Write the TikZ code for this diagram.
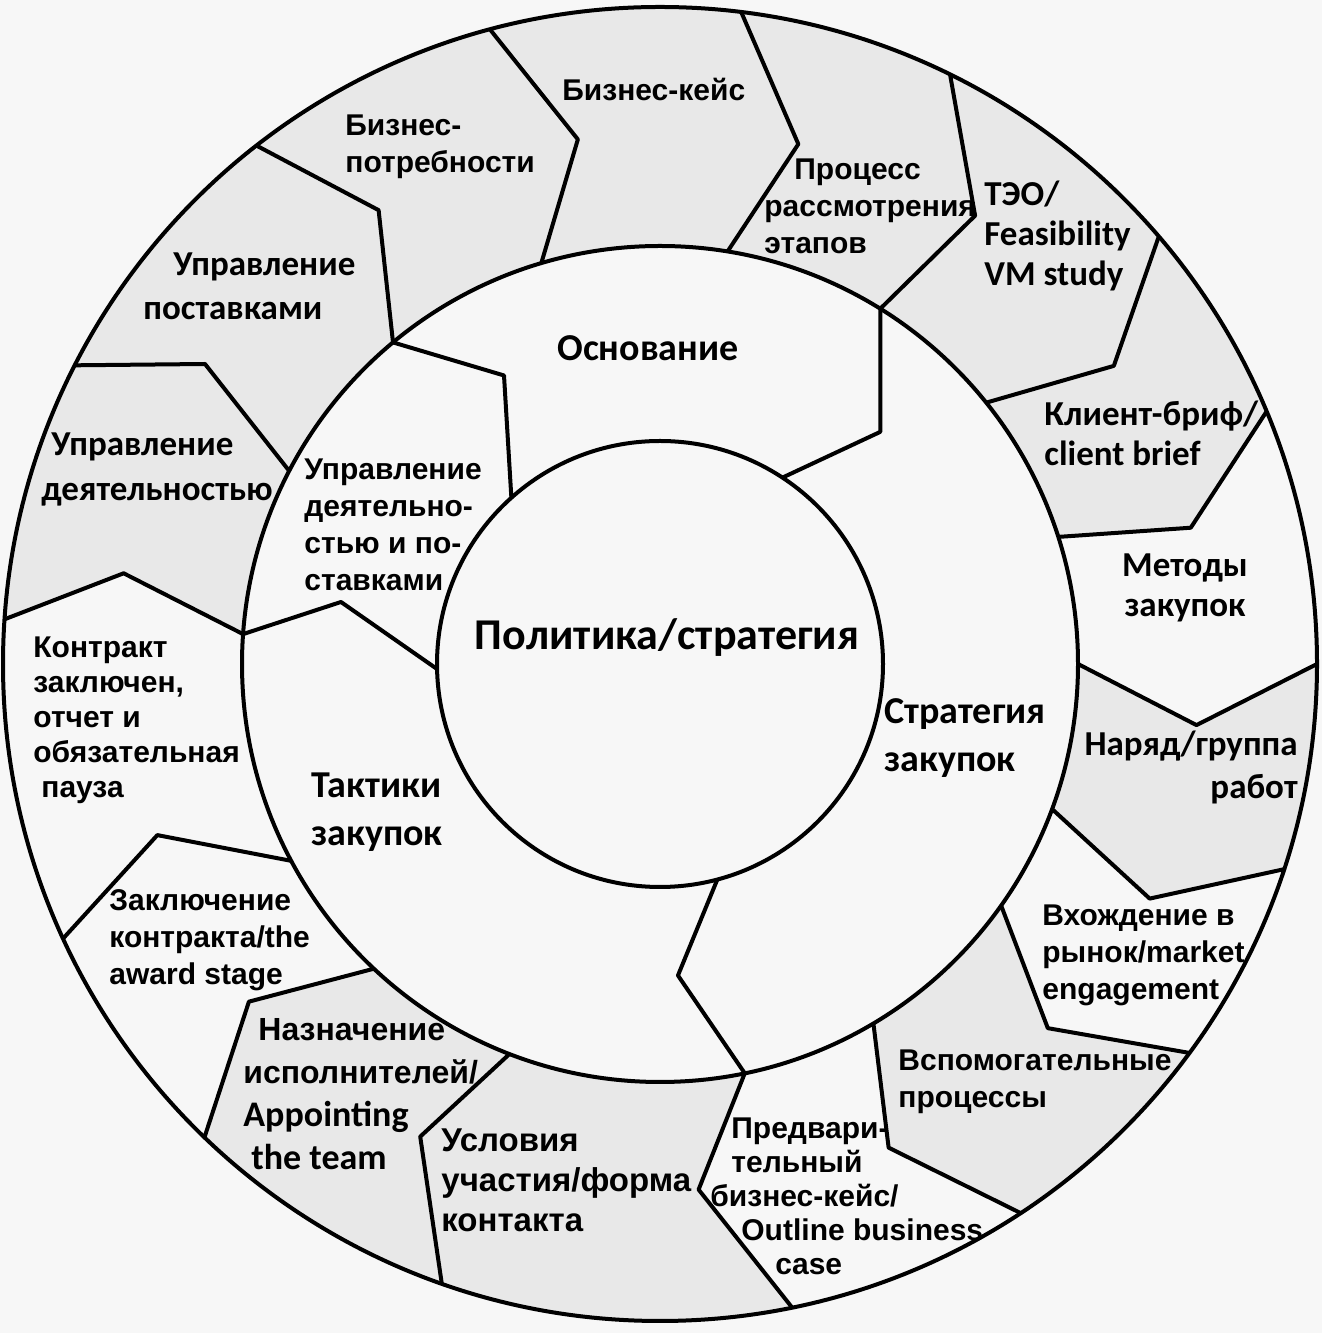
\documentclass[tikz,border=0pt]{standalone}
\usepackage{fontspec}
\setmainfont{Liberation Sans}
\newfontfamily\calibfont{Carlito}
\usetikzlibrary{calc}
\definecolor{bgcol}{gray}{0.97}
\definecolor{segcol}{gray}{0.91}

\begin{document}
\begin{tikzpicture}[
    x=0.5pt, y=0.5pt,
    ring/.style={line width=2pt, line join=round},
    seg/.style={fill=segcol},
    lbl/.style={inner sep=0pt, align=left, anchor=west, font=\bfseries\fontsize{15}{18.5}\selectfont},
    clbl/.style={inner sep=0pt, align=left, anchor=west, font=\calibfont\bfseries\fontsize{17.5}{20}\selectfont},
    mlbl/.style={clbl, font=\calibfont\bfseries\fontsize{19}{24}\selectfont}
]
\useasboundingbox (0,0) rectangle (1322,1333);
\fill[bgcol] (0,0) rectangle (1322,1333);
\coordinate (O) at (660,669);

\foreach \n/\ao/\ak/\rk/\am in {1/105.0/98.9/531/106.5, 2/82.9/75.1/538/80.7, 3/63.8/54.9/548/58.2,
    4/40.6/33.3/543/38.7, 5/22.6/14.4/548/17.7, 6/0.0/-6.5/540/0.0, 7/-18.2/-25.6/543/-20.3,
    8/-36.3/-43.2/532/-35.3, 9/-56.7/-64.7/535/-59.3, 10/-78.4/-85.8/527/-78.3,
    11/-109.4/-116.9/530/-111.1, 12/-133.9/-140.6/532/-133.2, 13/-155.3/-161.2/531/-151.9,
    14/176.1/170.4/544/175.9, 15/152.96/146.6/545/152.5, 16/127.9/121.8/534/129.7}{
  \coordinate (o\n) at ($(O)+(\ao:657)$);
  \coordinate (k\n) at ($(O)+(\ak:\rk)$);
  \coordinate (m\n) at ($(O)+(\am:418)$);
}
\foreach \n/\ak/\rk/\ai in {A/46.5/320/56.7, B/-86.7/312/-75.1, C/169.0/325/181.3, D/118.4/328/131.8}{
  \coordinate (k\n) at ($(O)+(\ak:\rk)$);
  \coordinate (i\n) at ($(O)+(\ai:223)$);
}

\fill[seg] (o14) -- (k14) -- (m14) -- (m15) -- (m16) -- (m1) -- (m2) -- (m3) -- (m4) -- (m5) -- (k5) -- (o5)
    arc[start angle=22.6, end angle=176.1, radius=328.5pt] -- cycle;
\fill[seg] (o6) -- (k6) -- (m6) -- (m7) -- (k7) -- (o7) arc[start angle=-18.2, end angle=0, radius=328.5pt] -- cycle;
\fill[seg] (o8) -- (k8) -- (m8) -- (m9) -- (k9) -- (o9) arc[start angle=-56.7, end angle=-36.3, radius=328.5pt] -- cycle;
\fill[seg] (o10) -- (k10) -- (m10) -- (m11) -- (m12) -- (k12) -- (o12)
    arc[start angle=-133.9, end angle=-78.4, radius=328.5pt] -- cycle;
\fill[bgcol] (O) circle[radius=209pt];

\draw[ring] (O) circle[radius=328.5pt] (O) circle[radius=209pt] (O) circle[radius=111.5pt];
\foreach \n in {1,...,16}
  \draw[ring] (o\n) -- (k\n) -- (m\n);
\draw[ring] (m3) -- (kA) -- (iA);
\draw[ring] (m10) -- (kB) -- (iB);
\draw[ring] (m14) -- (kC) -- (iC);
\draw[ring] (m16) -- (kD) -- (iD);

\node[lbl] (bcase) at (562,1243) {Бизнес-кейс};
\node[lbl] (bneeds) at (345,1186) {Бизнес-\\потребности};
\node[lbl] (review) at (764,1127) {\hspace*{15pt}Процесс\\рассмотрения\\этапов};
\node[clbl] (feas) at (984,1097) {ТЭО/\\Feasibility\\VM study};
\node[clbl] (brief) at (1044,900) {Клиент-бриф/\\client brief};
\node[clbl, align=center, anchor=center] (methods) at (1185,745) {Методы\\закупок};
\node[clbl, align=right, anchor=east, font=\calibfont\bfseries\fontsize{17.5}{21.5}\selectfont] (works) at (1298,566) {Наряд/группа\\работ};
\node[lbl] (market) at (1042,378) {Вхождение в\\рынок/market\\engagement};
\node[lbl] (support) at (898,251) {Вспомогательные\\процессы};
\node[lbl, font=\bfseries\fontsize{15}{17}\selectfont] (outline) at (710,137)
  {\hspace*{10.5pt}Предвари-\\\hspace*{10.5pt}тельный\\бизнес-кейс/\\\hspace*{15.5pt}Outline business\\\hspace*{32.5pt}case};
\node[lbl, font=\bfseries\fontsize{16.5}{20}\selectfont] (terms) at (441,153) {Условия\\участия/форма\\контакта};
\node[lbl, font=\bfseries\fontsize{16}{21.5}\selectfont] (team) at (243,239)
  {\hspace*{7.5pt}Назначение\\исполнителей/\\{\calibfont\fontsize{18}{21.5}\selectfont Appointing}\\\hspace*{4pt}{\calibfont\fontsize{18}{21.5}\selectfont the team}};
\node[lbl] (award) at (109,393) {Заключение\\контракта/the\\award stage};
\node[lbl, font=\bfseries\fontsize{15}{17.5}\selectfont] (closed) at (33,613) {Контракт\\заключен,\\отчет и\\обязательная\\\hspace*{4pt}пауза};
\node[clbl, font=\calibfont\bfseries\fontsize{17.5}{22.5}\selectfont] (activity) at (41,863.5) {\hspace*{5pt}Управление\\деятельностью};
\node[clbl, font=\calibfont\bfseries\fontsize{17.5}{22}\selectfont] (supply) at (143,1047) {\hspace*{15pt}Управление\\поставками};

\node[mlbl] (basis) at (557,985) {Основание};
\node[mlbl] (strategy) at (884,595) {Стратегия\\закупок};
\node[mlbl] (tactics) at (311,521) {Тактики\\закупок};
\node[lbl] (manage) at (304,808) {Управление\\деятельно-\\стью и по-\\ставками};
\node[inner sep=0pt, font=\calibfont\bfseries\fontsize{22}{26}\selectfont] (policy) at (667,695) {Политика/стратегия};
\end{tikzpicture}
\end{document}
